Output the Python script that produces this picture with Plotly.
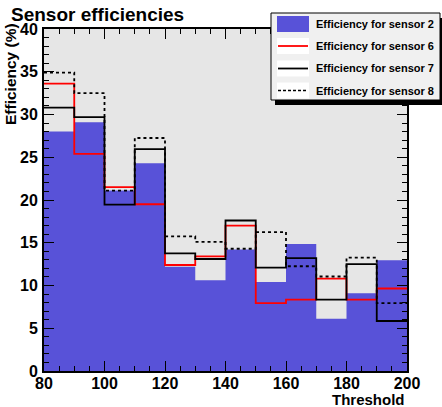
import plotly.graph_objects as go

# Threshold bins (width 10) and per-sensor efficiencies in percent
bin_edges = [80, 90, 100, 110, 120, 130, 140, 150, 160, 170, 180, 190, 200]
sensor2 = [28.0, 29.1, 21.1, 24.3, 12.2, 10.6, 14.2, 10.4, 14.85, 6.1, 9.1, 12.95]
sensor6 = [33.6, 25.4, 21.5, 19.5, 12.4, 13.4, 17.0, 7.95, 8.35, 10.8, 8.35, 9.65]
sensor7 = [30.8, 29.7, 19.45, 25.95, 13.75, 13.1, 17.6, 12.1, 13.2, 8.35, 12.5, 5.85]
sensor8 = [34.9, 32.5, 21.1, 27.25, 15.75, 15.1, 14.3, 16.25, 12.25, 11.05, 13.25, 7.95]
series_names = ["Efficiency for sensor 2", "Efficiency for sensor 6",
                "Efficiency for sensor 7", "Efficiency for sensor 8"]

BLUE = "#5852d8"
FONT = "Liberation Sans"

W, H = 442, 407
L, R, T, B = 44, 35, 29, 36
PW, PH = W - L - R, H - T - B


def px(x):
    return (x - L) / PW


def py(y):
    return (H - B - y) / PH


def steps(vals):
    # repeat the last value so the step line reaches the upper edge
    return bin_edges, list(vals) + [vals[-1]]


fig = go.Figure()

x, y = steps(sensor2)
fig.add_trace(go.Scatter(x=x, y=y, mode="lines", fill="tozeroy", fillcolor=BLUE,
                         line=dict(shape="hv", width=0, color=BLUE), name=series_names[0]))
x, y = steps(sensor6)
fig.add_trace(go.Scatter(x=x, y=y, mode="lines", line=dict(shape="hv", width=1.8, color="#ff0000"),
                         name=series_names[1]))
x, y = steps(sensor7)
fig.add_trace(go.Scatter(x=x, y=y, mode="lines", line=dict(shape="hv", width=1.8, color="black"),
                         name=series_names[2]))
x, y = steps(sensor8)
fig.add_trace(go.Scatter(x=x, y=y, mode="lines",
                         line=dict(shape="hv", width=1.8, color="black", dash="3px,3px"),
                         name=series_names[3]))

axis_common = dict(
    showgrid=False, zeroline=False, showline=True, linecolor="black", linewidth=2,
    mirror="allticks", ticks="inside", tickcolor="black", tickwidth=1.3,
    tickfont=dict(family=FONT, size=16, weight="bold", color="black"),
)
fig.update_xaxes(range=[80, 200], dtick=20, ticklen=10, ticklabelstandoff=-3,
                 minor=dict(dtick=5, ticklen=5, ticks="inside", tickcolor="black", tickwidth=1.2),
                 **axis_common)
fig.update_yaxes(range=[0, 40], dtick=5, ticklen=10, ticklabelstandoff=1,
                 minor=dict(dtick=1, ticklen=5, ticks="inside", tickcolor="black", tickwidth=1.2),
                 **axis_common)

shapes = []
annotations = []

# legend box with drop shadow
bx0, bx1, by0, by1 = 271, 440, 13, 100
shapes.append(dict(type="rect", xref="paper", yref="paper", layer="above",
                   x0=px(bx0 + 4), x1=px(bx1 + 4), y0=py(by1 + 5), y1=py(by0 + 5),
                   fillcolor="black", line=dict(width=0)))
shapes.append(dict(type="rect", xref="paper", yref="paper", layer="above",
                   x0=px(bx0), x1=px(bx1), y0=py(by1), y1=py(by0),
                   fillcolor="#f0f0f0", line=dict(color="black", width=1)))

row_y = [24, 46, 68.5, 90.5]
styles = [None, dict(color="#ff0000", width=1.8), dict(color="black", width=1.8),
          dict(color="black", width=1.5, dash="3px,2px")]
for name, ry, st in zip(series_names, row_y, styles):
    shapes.append(dict(type="rect", xref="paper", yref="paper", layer="above",
                       x0=px(277), x1=px(309), y0=py(ry + 8), y1=py(ry - 8),
                       fillcolor=BLUE if st is None else "white", line=dict(width=0)))
    if st is not None:
        shapes.append(dict(type="line", xref="paper", yref="paper", layer="above",
                           x0=px(278), x1=px(308), y0=py(ry), y1=py(ry), line=st))
    annotations.append(dict(text=name, xref="paper", yref="paper", x=px(314), y=py(ry),
                            xanchor="left", yanchor="middle", showarrow=False,
                            font=dict(family=FONT, size=11, weight="bold", color="black")))

annotations.append(dict(text="Sensor efficiencies", xref="paper", yref="paper",
                        x=px(10), y=py(14), xanchor="left", yanchor="middle", showarrow=False,
                        height=20, borderpad=0,
                        font=dict(family=FONT, size=19, weight="bold", color="black")))
annotations.append(dict(text="Threshold", xref="paper", yref="paper",
                        x=px(407), y=py(399), xanchor="right", yanchor="middle", showarrow=False,
                        font=dict(family=FONT, size=15, weight="bold", color="black")))
annotations.append(dict(text="Efficiency (%)", xref="paper", yref="paper", textangle=-90,
                        x=px(10), y=py(21), xanchor="center", yanchor="top", showarrow=False,
                        font=dict(family=FONT, size=15.5, weight="bold", color="black")))

fig.update_layout(
    width=W, height=H, margin=dict(l=L, r=R, t=T, b=B),
    paper_bgcolor="white", plot_bgcolor="#e6e6e6",
    showlegend=False, shapes=shapes, annotations=annotations,
)

fig.write_html("out.html")
